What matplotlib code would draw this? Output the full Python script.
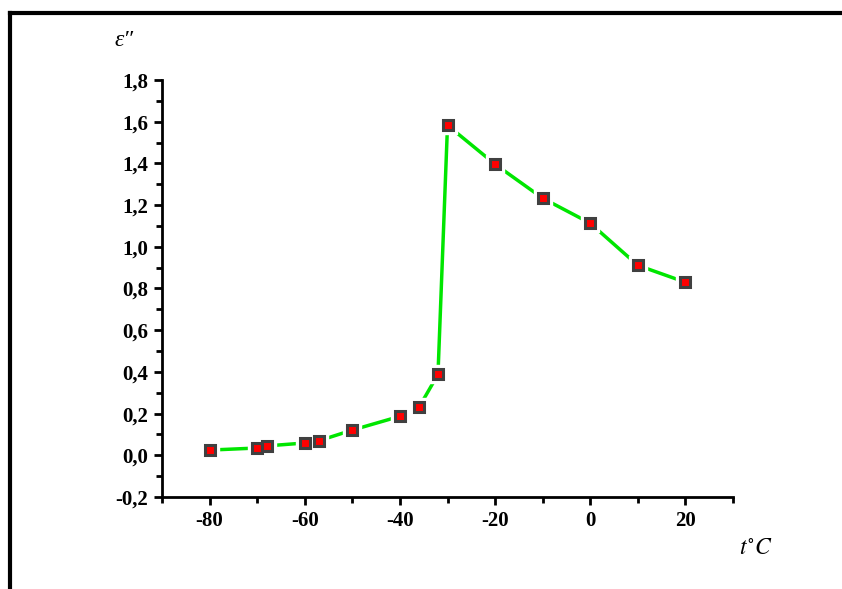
import matplotlib
matplotlib.use('Agg')
import matplotlib.pyplot as plt
from matplotlib.lines import Line2D
from matplotlib.ticker import MultipleLocator, FuncFormatter

temperatura = [-80, -70, -68, -60, -57, -50, -40, -36, -32, -30, -20, -10, 0, 10, 20]
eps2 = [0.025, 0.035, 0.045, 0.059, 0.07, 0.121, 0.187, 0.23, 0.388, 1.583,
        1.396, 1.233, 1.113, 0.911, 0.83]

plt.rcParams['font.family'] = ['Liberation Serif', 'DejaVu Serif']
plt.rcParams['mathtext.fontset'] = 'stix'

fig = plt.figure(figsize=(8.42, 5.89), dpi=100)
ax = fig.add_axes([162 / 842, 1 - 497 / 589, (733 - 162) / 842, (497 - 80) / 589])

# linia, potem biale tlo pod znacznikami (przerwy jak w Origin), potem znaczniki
ax.plot(temperatura, eps2, color='#00e600', lw=2.5, zorder=2)
ax.plot(temperatura, eps2, ls='none', marker='s', ms=12.5, mfc='white', mec='white', zorder=3)
ax.plot(temperatura, eps2, ls='none', marker='s', ms=7, mfc='#ff0000',
        mec='#404040', mew=2.2, zorder=4)

ax.set_xlim(-90, 30)
ax.set_ylim(-0.2, 1.8)
ax.xaxis.set_major_locator(MultipleLocator(20))
ax.xaxis.set_minor_locator(MultipleLocator(10))
ax.yaxis.set_major_locator(MultipleLocator(0.2))
ax.yaxis.set_minor_locator(MultipleLocator(0.1))
ax.xaxis.set_major_formatter(FuncFormatter(lambda v, p: '' if v < -85 or v > 25 else f'{v:.0f}'))
ax.yaxis.set_major_formatter(FuncFormatter(lambda v, p: f'{v:.1f}'.replace('.', ',').replace('-0,0', '0,0')))

for s in ['top', 'right']:
    ax.spines[s].set_visible(False)
for s in ['left', 'bottom']:
    ax.spines[s].set_linewidth(2)
ax.tick_params(which='major', direction='out', length=6, width=2, labelsize=15, pad=4)
ax.tick_params(which='minor', direction='out', length=4, width=2)
for lab in ax.get_xticklabels() + ax.get_yticklabels():
    lab.set_fontweight('bold')

fig.text(124 / 842, 1 - 40 / 589, 'ε″', fontsize=17, style='italic', ha='center', va='center')
fig.text(756 / 842, 1 - 549 / 589, r'$t^{\circ}C$', fontsize=17, ha='center', va='center')

# ramka (gora i lewa strona)
fig.add_artist(Line2D([10 / 842, 1], [1 - 12.5 / 589, 1 - 12.5 / 589], color='black', lw=3, transform=fig.transFigure))
fig.add_artist(Line2D([10 / 842, 10 / 842], [0, 1 - 12.5 / 589], color='black', lw=3, transform=fig.transFigure))

fig.savefig('out.png', dpi=100)
